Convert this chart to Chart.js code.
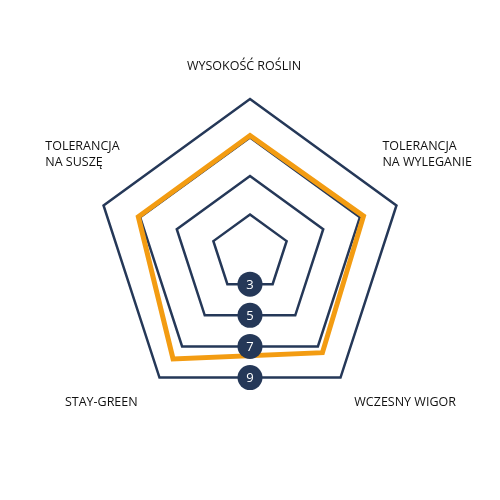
<!DOCTYPE html>
<html>
<head>
<meta charset="utf-8">
<script src="https://cdn.jsdelivr.net/npm/chart.js@4.4.1/dist/chart.umd.min.js"></script>
<style>
  html, body { margin: 0; padding: 0; background: #fff; }
</style>
</head>
<body>
<canvas id="radarChart" width="500" height="500"></canvas>
<script>
// categories, clockwise from the top
var categories = [
    ['WYSOKOŚĆ ROŚLIN'],
    ['TOLERANCJA', 'NA WYLEGANIE'],
    ['WCZESNY WIGOR'],
    ['STAY-GREEN'],
    ['TOLERANCJA', 'NA SUSZĘ']
];

// series values
var values = [7.1, 7.2, 7.4, 7.8, 7.1];

// scale / tick labels
var scaleMin = 1;
var scaleMax = 9;
var tickStep = 2;
var tickLabels = [3, 5, 7, 9];

var navy = '#253858';
var orange = '#f39c12';
var labelFont = '12.5px "Open Sans", "Noto Sans", sans-serif';

// where each category label sits, relative to its axis point
// align 'blockRight': lines left aligned, block ends at the anchor
var labelPlacement = [
    { dist: 29, dx: -6, dy: 0, align: 'center' },
    { dist: 0, dx: -14, dy: -55, align: 'left' },
    { dist: 23.5, dx: 0, dy: 9.5, align: 'left' },
    { dist: 23.5, dx: -8, dy: 9.5, align: 'right' },
    { dist: 0, dx: 16, dy: -55, align: 'blockRight' }
];

// draws the category labels around the web
var pointLabelsPlugin = {
    id: 'pointLabelsPlugin',
    afterDraw: function (chart) {
        var scale = chart.scales.r;
        var ctx = chart.ctx;
        ctx.save();
        ctx.font = labelFont;
        ctx.fillStyle = '#111';
        ctx.textBaseline = 'alphabetic';
        categories.forEach(function (lines, i) {
            var p = labelPlacement[i];
            var pos = scale.getPointPosition(i, scale.drawingArea + p.dist);
            var x = pos.x + p.dx;
            if (p.align === 'blockRight') {
                var w = Math.max.apply(null, lines.map(function (l) { return ctx.measureText(l).width; }));
                x -= w;
                ctx.textAlign = 'left';
            } else {
                ctx.textAlign = p.align;
            }
            lines.forEach(function (line, j) {
                ctx.fillText(line, x, pos.y + p.dy + j * 16);
            });
        });
        ctx.restore();
    }
};

// round badges with the tick values, along the bottom edge
var tickBadgesPlugin = {
    id: 'tickBadgesPlugin',
    afterDatasetsDraw: function (chart) {
        var scale = chart.scales.r;
        var ctx = chart.ctx;
        ctx.save();
        tickLabels.forEach(function (v) {
            var r = scale.getDistanceFromCenterForValue(v);
            var a = scale.getPointPosition(2, r);
            var b = scale.getPointPosition(3, r);
            var x = (a.x + b.x) / 2;
            var y = (a.y + b.y) / 2;
            ctx.beginPath();
            ctx.arc(x, y, 12.5, 0, Math.PI * 2);
            ctx.fillStyle = navy;
            ctx.fill();
            ctx.fillStyle = '#fff';
            ctx.font = '13px "Open Sans", "Noto Sans", sans-serif';
            ctx.textAlign = 'center';
            ctx.textBaseline = 'middle';
            ctx.fillText(String(v), x, y + 1);
        });
        ctx.restore();
    }
};

var radar = new Chart(document.getElementById('radarChart'), {
    type: 'radar',
    data: {
        labels: categories,
        datasets: [{
            data: values,
            borderColor: orange,
            borderWidth: 5,
            fill: false,
            pointRadius: 0,
            pointHoverRadius: 0
        }]
    },
    options: {
        responsive: false,
        animation: false,
        layout: {
            padding: { left: 96, right: 96, top: 99, bottom: 93 }
        },
        plugins: {
            legend: { display: false },
            tooltip: { enabled: false }
        },
        scales: {
            r: {
                min: scaleMin,
                max: scaleMax,
                ticks: { stepSize: tickStep, display: false },
                grid: { color: navy, lineWidth: 2.5 },
                angleLines: { display: false },
                pointLabels: { display: false }
            }
        }
    },
    plugins: [tickBadgesPlugin, pointLabelsPlugin]
});
</script>
</body>
</html>
